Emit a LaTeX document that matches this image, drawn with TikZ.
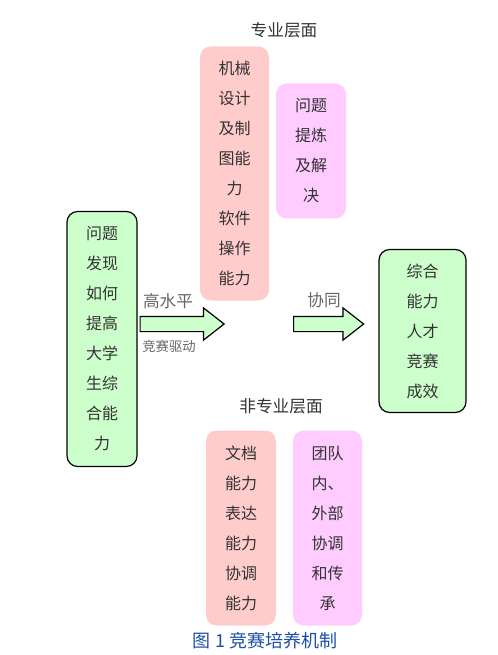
\documentclass[tikz,border=0pt]{standalone}
\usepackage{fontspec}
\newfontfamily\cjk{Noto Sans CJK SC}
\usetikzlibrary{shapes.arrows}
\definecolor{greenfill}{HTML}{CCFFCC}
\definecolor{pinkfill}{HTML}{FFCCCC}
\definecolor{magentafill}{HTML}{FFCCFF}
\definecolor{captionblue}{HTML}{1A4FA8}
\begin{document}
\begin{tikzpicture}[x=0.75pt,y=-0.75pt,
    every node/.style={font=\cjk\fontsize{12pt}{22.5pt}\selectfont, text=black!80},
    box/.style={rounded corners=8pt, inner sep=0pt, align=center},
    greenbox/.style={box, draw=black, line width=0.9pt, fill=greenfill},
    pinkbox/.style={box, fill=pinkfill},
    magentabox/.style={box, fill=magentafill},
    levellabel/.style={font=\cjk\fontsize{12.5pt}{15pt}\selectfont},
    arrowlabel/.style={levellabel, text=black!60},
    blockarrow/.style={single arrow, draw=black, line width=0.9pt, fill=greenfill,
      anchor=tail, single arrow tip angle=76, single arrow head extend=6.4pt,
      inner xsep=0pt, inner ysep=5.25pt}]
  \useasboundingbox (0,0) rectangle (497,655);
  % left box
  \node[greenbox, minimum width=52.5pt, minimum height=191.25pt] (problem) at (102,339)
    {问题\\发现\\如何\\提高\\大学\\生综\\合能\\力};
  % professional level
  \node[levellabel] (prolabel) at (284,30) {专业层面};
  \node[pinkbox, minimum width=51.75pt, minimum height=190.5pt] (mech) at (234.5,173.5)
    {机械\\设计\\及制\\图能\\力\\软件\\操作\\能力};
  \node[magentabox, minimum width=52.5pt, minimum height=101.25pt] (solve) at (311,151)
    {问题\\提炼\\及解\\决};
  % arrows
  \node[blockarrow, minimum height=63pt] (drive) at (139.5,324) {};
  \node[arrowlabel] (high) at (168,301.5) {高水平};
  \node[arrowlabel, font=\cjk\fontsize{10pt}{12pt}\selectfont] (compdrive) at (169,346.5) {竞赛驱动};
  \node[blockarrow, minimum height=52.5pt] (coop) at (293,324) {};
  \node[arrowlabel] (cooplabel) at (324,300.5) {协同};
  % right box
  \node[greenbox, minimum width=65.25pt, minimum height=122.25pt] (result) at (422.5,331)
    {综合\\能力\\人才\\竞赛\\成效};
  % non-professional level
  \node[levellabel] (nonprolabel) at (281,406) {非专业层面};
  \node[pinkbox, minimum width=52.5pt, minimum height=146.25pt] (doc) at (241,528)
    {文档\\能力\\表达\\能力\\协调\\能力};
  \node[magentabox, minimum width=51.75pt, minimum height=146.25pt] (team) at (327.5,528)
    {团队\\内、\\外部\\协调\\和传\\承};
  % caption
  \node[font=\cjk\fontsize{13.5pt}{15pt}\selectfont, text=captionblue] (caption) at (265,641)
    {图 1 竞赛培养机制};
\end{tikzpicture}
\end{document}
